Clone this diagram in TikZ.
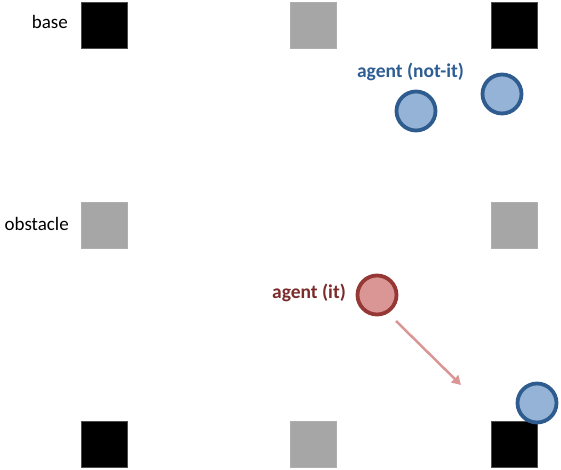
\documentclass[tikz,border=0pt]{standalone}
\usepackage{fontspec}
\setmainfont{Carlito}
\usetikzlibrary{arrows.meta}
\definecolor{bluefill}{HTML}{95B3D7}
\definecolor{blueline}{HTML}{2F5C8F}
\definecolor{bluetext}{HTML}{2E5D93}
\definecolor{redfill}{HTML}{DA9694}
\definecolor{redline}{HTML}{953735}
\definecolor{redtext}{HTML}{7A2B2A}
\definecolor{arrowred}{HTML}{DA9694}
\definecolor{obst}{HTML}{A6A6A6}
\tikzset{
  basebox/.style={rectangle, fill=black, draw=black!70, line width=0.8pt, minimum size=46pt, inner sep=0pt},
  obstbox/.style={rectangle, fill=obst, draw=obst!90!white, line width=0.8pt, minimum size=46pt, inner sep=0pt},
  notit/.style={circle, fill=bluefill, draw=blueline, line width=3.8pt, minimum size=39pt, inner sep=0pt},
  itagent/.style={circle, fill=redfill, draw=redline, line width=3.8pt, minimum size=39pt, inner sep=0pt},
  lbl/.style={font=\fontsize{19}{23}\selectfont, inner sep=0pt, anchor=east},
  agentlbl/.style={font=\fontsize{19.5}{23}\selectfont\bfseries, inner sep=0pt}
}
\begin{document}
\begin{tikzpicture}[x=1pt,y=-1pt]
\useasboundingbox (0,0) rectangle (561,470);
% squares
\node[basebox] (b1) at (104,25) {};
\node[obstbox] (o1) at (313.5,25) {};
\node[basebox] (b2) at (514.5,25) {};
\node[obstbox] (o2) at (104,225) {};
\node[obstbox] (o3) at (514.5,225) {};
\node[basebox] (b3) at (104,444) {};
\node[obstbox] (o4) at (313.5,444) {};
\node[basebox] (b4) at (514.5,444) {};
% labels
\node[lbl] (lbase) at (68,22) {base};
\node[lbl] (lobst) at (69,224) {obstacle};
% agents
\node[notit] (n1) at (416,111) {};
\node[notit] (n2) at (502,94) {};
\node[notit] (n3) at (537,403) {};
\node[itagent] (r1) at (377,295) {};
\node[agentlbl, text=bluetext] (lnotit) at (410.5,72) {agent (not-it)};
\node[agentlbl, text=redtext] (lit) at (309,293) {agent (it)};
% arrow
\coordinate (aend) at (461,385);
\draw[arrowred, line width=2.5pt, -{Triangle[length=9pt,width=10pt]}] (396,321) -- (aend);
\end{tikzpicture}
\end{document}
